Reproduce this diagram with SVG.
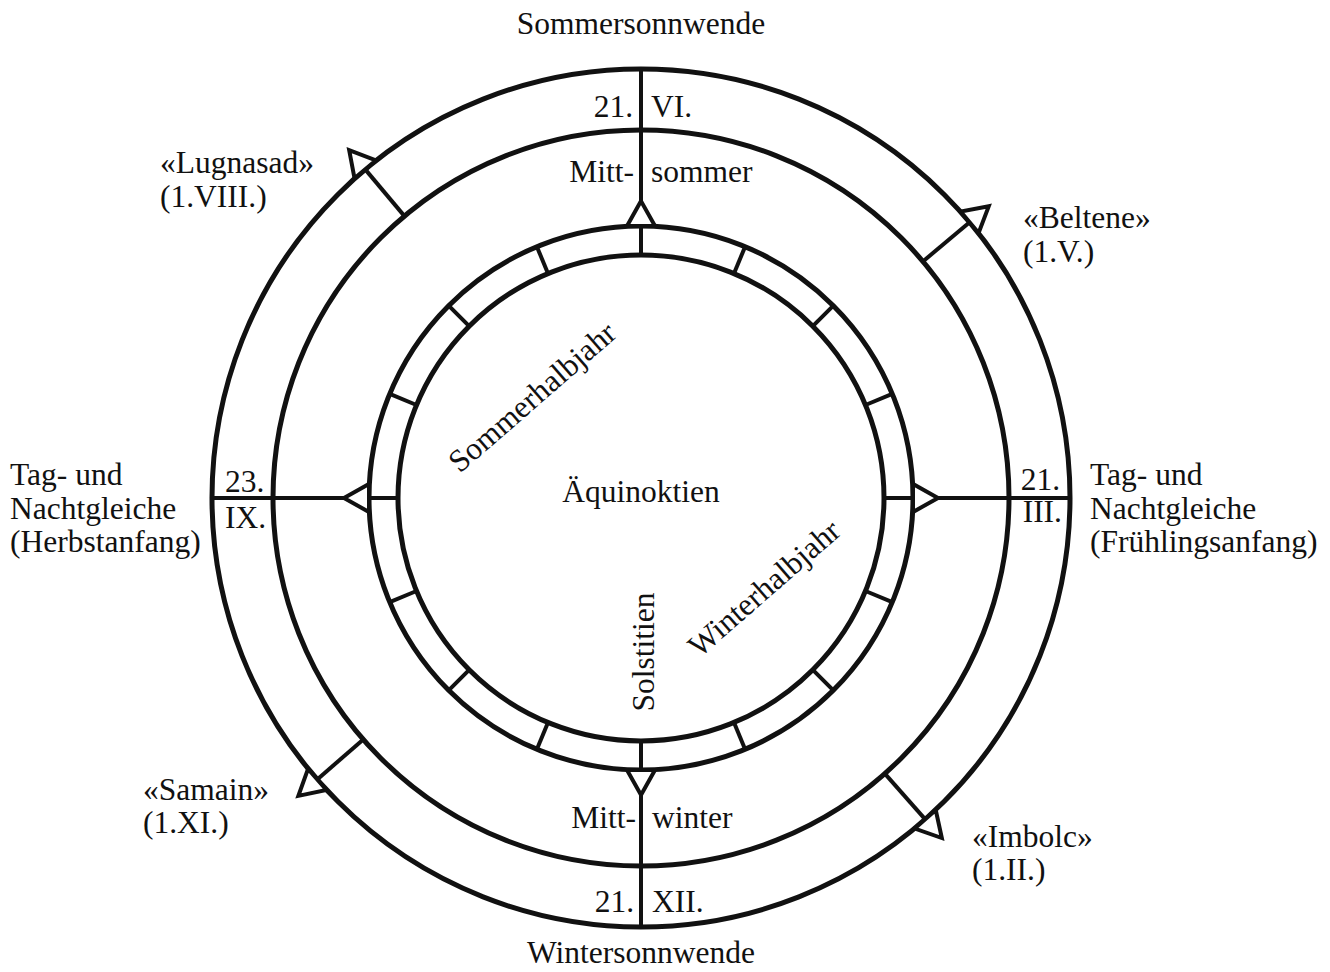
<svg xmlns="http://www.w3.org/2000/svg" width="1330" height="972" viewBox="0 0 1330 972">
<style>
text { font-family: "Liberation Serif", "Times New Roman", serif; font-size: 31.5px; fill: #111; }
.ring { fill: none; stroke: #111; stroke-width: 5; }
.ln { stroke: #111; stroke-width: 4; fill: none; }
.tri { fill: #fff; stroke: #111; stroke-width: 4; stroke-linejoin: miter; }
.e { text-anchor: end; }
.m { text-anchor: middle; }
</style>
<defs>
<polygon id="tri" class="tri" points="0,-25 -14,0 14,0"/>
<line id="tick" class="ln" x1="0" y1="-243" x2="0" y2="-272"/>
<line id="spoke" class="ln" x1="0" y1="-429" x2="0" y2="-296"/>
<line id="fest" class="ln" x1="0" y1="-368" x2="0" y2="-429"/>
</defs>
<rect width="1330" height="972" fill="#fff"/>

<g id="rings" transform="translate(641,498)">
<circle class="ring" r="429"/>
<circle class="ring" r="368"/>
<circle class="ring" r="272"/>
<circle class="ring" r="243"/>
</g>

<g id="connectors" transform="translate(641,498)">
<use href="#tick" transform="rotate(0)"/>
<use href="#tick" transform="rotate(22.5)"/>
<use href="#tick" transform="rotate(45)"/>
<use href="#tick" transform="rotate(67.5)"/>
<use href="#tick" transform="rotate(90)"/>
<use href="#tick" transform="rotate(112.5)"/>
<use href="#tick" transform="rotate(135)"/>
<use href="#tick" transform="rotate(157.5)"/>
<use href="#tick" transform="rotate(180)"/>
<use href="#tick" transform="rotate(202.5)"/>
<use href="#tick" transform="rotate(225)"/>
<use href="#tick" transform="rotate(247.5)"/>
<use href="#tick" transform="rotate(270)"/>
<use href="#tick" transform="rotate(292.5)"/>
<use href="#tick" transform="rotate(315)"/>
<use href="#tick" transform="rotate(337.5)"/>
<use href="#spoke" transform="rotate(0)"/>
<use href="#spoke" transform="rotate(90)"/>
<use href="#spoke" transform="rotate(180)"/>
<use href="#spoke" transform="rotate(270)"/>
<use href="#fest" transform="rotate(-40)"/>
<use href="#fest" transform="rotate(50)"/>
<use href="#fest" transform="rotate(-131)"/>
<use href="#fest" transform="rotate(138.5)"/>
</g>

<g id="sommersonnwende">
<use href="#tri" transform="translate(641,498) rotate(0) translate(0,-272)"/>
<text class="m" x="641" y="34">Sommersonnwende</text>
<text class="e" x="633" y="117">21.</text>
<text x="651" y="117">VI.</text>
<text class="e" x="634" y="182">Mitt-</text>
<text x="651" y="182">sommer</text>
</g>

<g id="wintersonnwende">
<use href="#tri" transform="translate(641,498) rotate(180) translate(0,-272)"/>
<text class="e" x="636" y="828">Mitt-</text>
<text x="652" y="828">winter</text>
<text class="e" x="634" y="912">21.</text>
<text x="652" y="912">XII.</text>
<text class="m" x="641" y="963">Wintersonnwende</text>
</g>

<g id="herbstanfang">
<use href="#tri" transform="translate(641,498) rotate(-90) translate(0,-272)"/>
<text x="225" y="492">23.</text>
<text x="225" y="528">IX.</text>
<text x="10" y="485">Tag- und</text>
<text x="10" y="519">Nachtgleiche</text>
<text x="10" y="552">(Herbstanfang)</text>
</g>

<g id="fruehlingsanfang">
<use href="#tri" transform="translate(641,498) rotate(90) translate(0,-272)"/>
<text class="e" x="1060" y="490">21.</text>
<text class="e" x="1062" y="522">III.</text>
<text x="1090" y="485">Tag- und</text>
<text x="1090" y="519">Nachtgleiche</text>
<text x="1090" y="552">(Frühlingsanfang)</text>
</g>

<g id="lugnasad">
<use href="#tri" transform="translate(641,498) rotate(-40) translate(0,-429)"/>
<text x="160" y="173">«Lugnasad»</text>
<text x="160" y="207">(1.VIII.)</text>
</g>

<g id="beltene">
<use href="#tri" transform="translate(641,498) rotate(50) translate(0,-429)"/>
<text x="1023" y="228">«Beltene»</text>
<text x="1023" y="262">(1.V.)</text>
</g>

<g id="samain">
<use href="#tri" transform="translate(641,498) rotate(-131) translate(0,-429)"/>
<text x="143" y="800">«Samain»</text>
<text x="143" y="833">(1.XI.)</text>
</g>

<g id="imbolc">
<use href="#tri" transform="translate(641,498) rotate(138.5) translate(0,-429)"/>
<text x="972" y="847">«Imbolc»</text>
<text x="972" y="880">(1.II.)</text>
</g>

<g id="center-labels">
<text class="m" x="641" y="502">Äquinoktien</text>
<text class="m" transform="translate(539,405) rotate(-41)">Sommerhalbjahr</text>
<text class="m" transform="translate(771,596) rotate(-41)">Winterhalbjahr</text>
<text class="m" transform="translate(654,652) rotate(-90)">Solstitien</text>
</g>
</svg>
